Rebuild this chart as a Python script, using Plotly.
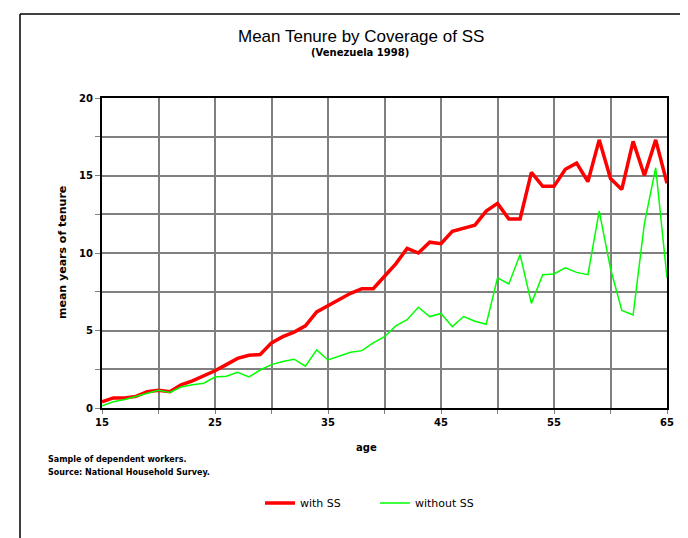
import plotly.graph_objects as go

ages = list(range(15, 66))
with_ss = [0.4, 0.65, 0.65, 0.75, 1.05, 1.15, 1.05, 1.5, 1.75, 2.05,
           2.4, 2.8, 3.2, 3.4, 3.45, 4.2, 4.6, 4.9, 5.3, 6.2,
           6.6, 7.0, 7.4, 7.7, 7.7, 8.5, 9.3, 10.3, 10.0, 10.7,
           10.6, 11.4, 11.6, 11.8, 12.7, 13.2, 12.2, 12.2, 15.2, 14.3,
           14.3, 15.4, 15.8, 14.6, 17.3, 14.8, 14.1, 17.2, 15.0, 17.3,
           14.5]
without_ss = [0.15, 0.4, 0.55, 0.75, 0.95, 1.15, 1.0, 1.35, 1.5, 1.6,
              2.0, 2.05, 2.3, 2.0, 2.45, 2.8, 3.0, 3.15, 2.7, 3.75,
              3.1, 3.35, 3.6, 3.7, 4.2, 4.6, 5.3, 5.7, 6.5, 5.9,
              6.1, 5.25, 5.9, 5.6, 5.4, 8.4, 8.0, 9.9, 6.75, 8.6,
              8.65, 9.05, 8.75, 8.6, 12.7, 9.0, 6.3, 6.0, 11.9, 15.5,
              8.4]
x_ticks = [15, 20, 25, 30, 35, 40, 45, 50, 55, 60, 65]
x_labels = ["15", "", "25", "", "35", "", "45", "", "55", "", "65"]
y_ticks = [0, 2.5, 5, 7.5, 10, 12.5, 15, 17.5, 20]
y_labels = ["0", "", "5", "", "10", "", "15", "", "20"]

FONT = "DejaVu Sans, Liberation Sans, sans-serif"
TFONT = "Liberation Sans, Arial, sans-serif"

OFF = 8  # page body margin
W, H = 680, 530
L, R, T, B = 102 - OFF, 667 - OFF, 98 - OFF, 408 - OFF
pw, ph = R - L, B - T


def px(x):  # reference-pixel x -> paper
    return (x - OFF - L) / pw


def py(y):  # reference-pixel y -> paper
    return (B - (y - OFF)) / ph


fig = go.Figure()
fig.add_trace(go.Scatter(x=ages, y=with_ss, mode="lines", name="with SS",
                         line=dict(color="#FF0000", width=3.5)))
fig.add_trace(go.Scatter(x=ages, y=without_ss, mode="lines", name="without SS",
                         line=dict(color="#00FF00", width=1.5)))

fig.update_layout(
    width=W, height=H,
    margin=dict(l=L, r=W - R, t=T, b=H - B, pad=0, autoexpand=False),
    paper_bgcolor="white", plot_bgcolor="white",
    font=dict(family=FONT, size=9, color="black"),
    showlegend=True,
    legend=dict(orientation="h", x=px(260), y=py(503), xanchor="left", yanchor="middle",
                font=dict(size=11, family=FONT), itemwidth=30, tracegroupgap=0,
                bgcolor="rgba(0,0,0,0)", entrywidth=70),
    xaxis=dict(range=[15, 65], tickvals=x_ticks, ticktext=x_labels,
               showgrid=True, gridcolor="#808080", gridwidth=2,
               showline=True, linecolor="black", linewidth=2, mirror=True,
               ticks="outside", ticklen=4, tickcolor="#808080",
               tickfont=dict(size=10, family=FONT, weight="bold"), zeroline=False),
    yaxis=dict(range=[0, 20], tickvals=y_ticks, ticktext=y_labels,
               showgrid=True, gridcolor="#808080", gridwidth=2,
               showline=True, linecolor="black", linewidth=2, mirror=True,
               ticks="outside", ticklen=5, tickcolor="#808080",
               tickfont=dict(size=10, family=FONT, weight="bold"), zeroline=False),
    shapes=[
        dict(type="line", xref="paper", yref="paper", x0=px(20), x1=px(681), y0=py(14), y1=py(14),
             line=dict(color="black", width=1.5)),
        dict(type="line", xref="paper", yref="paper", x0=px(20), x1=px(20), y0=py(14), y1=py(560),
             line=dict(color="black", width=1.5)),
        dict(type="line", xref="paper", yref="paper", x0=px(681), x1=px(681), y0=py(14), y1=py(560),
             line=dict(color="black", width=1.5)),
    ],
    annotations=[
        dict(text="Mean Tenure by Coverage of SS", xref="paper", yref="paper",
             x=px(361), y=py(36), xanchor="center", yanchor="middle", showarrow=False,
             font=dict(size=17, family=TFONT)),
        dict(text="<b>(Venezuela 1998)</b>", xref="paper", yref="paper",
             x=px(360), y=py(53), xanchor="center", yanchor="middle", showarrow=False,
             font=dict(size=10, family=FONT)),
        dict(text="<b>mean years of tenure</b>", xref="paper", yref="paper",
             x=px(62), y=py(253), xanchor="center", yanchor="middle", showarrow=False,
             textangle=-90, font=dict(size=11, family=FONT)),
        dict(text="<b>age</b>", xref="paper", yref="paper",
             x=px(366), y=py(447), xanchor="center", yanchor="middle", showarrow=False,
             font=dict(size=10, family=FONT)),
        dict(text="<b>Sample of dependent workers.</b>", xref="paper", yref="paper",
             x=px(46), y=py(459), xanchor="left", yanchor="middle", showarrow=False,
             font=dict(size=8, family=FONT)),
        dict(text="<b>Source: National Household Survey.</b>", xref="paper", yref="paper",
             x=px(46), y=py(472), xanchor="left", yanchor="middle", showarrow=False,
             font=dict(size=8, family=FONT)),
    ],
)

fig.write_html("out.html")
